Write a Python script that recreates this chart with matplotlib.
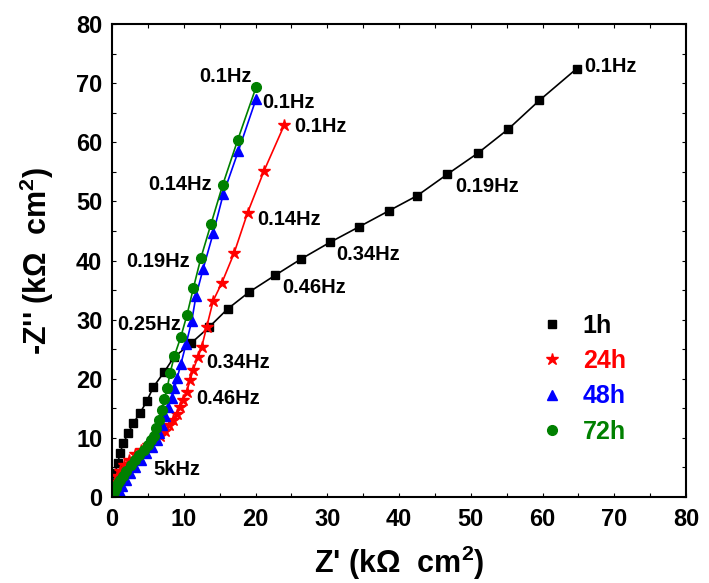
import matplotlib
matplotlib.use("Agg")
import matplotlib.pyplot as plt
from matplotlib.lines import Line2D
from matplotlib.ticker import MultipleLocator

plt.rcParams["font.family"] = ["Liberation Sans", "DejaVu Sans"]
plt.rcParams["font.weight"] = "bold"
plt.rcParams["mathtext.fontset"] = "custom"
plt.rcParams["mathtext.rm"] = "Liberation Sans:bold"
plt.rcParams["mathtext.it"] = "Liberation Sans:bold"
plt.rcParams["mathtext.bf"] = "Liberation Sans:bold"

# Nyquist data: Z' and -Z'' in kOhm cm^2 for each immersion time
z_re_1h = [0.05, 0.18, 0.42, 0.79, 1.11, 1.57, 2.27, 2.97, 3.9, 4.84, 5.76, 7.3, 8.6,
           11.0, 13.5, 16.1, 19.14, 22.72, 26.34, 30.34, 34.43, 38.57, 42.55, 46.73,
           51.01, 55.23, 59.55, 64.77]
z_im_1h = [1.0, 2.3, 4.0, 5.7, 7.4, 9.1, 10.8, 12.5, 14.2, 16.2, 18.6, 21.2, 23.6,
           26.0, 28.7, 31.8, 34.69, 37.49, 40.25, 43.05, 45.7, 48.4, 50.98, 54.59,
           58.18, 62.23, 67.07, 72.46]

z_re_24h = [0.1, 0.2, 0.4, 0.7, 1.1, 1.7, 2.4, 3.2, 4.1, 5.0, 5.9, 6.7, 7.4, 8.0, 8.5,
            9.0, 9.5, 9.94, 10.4, 10.9, 11.3, 12.0, 12.5, 13.2, 14.1, 15.3, 17.0,
            18.9, 21.2, 24.0]
z_im_24h = [0.5, 1.5, 2.5, 3.5, 4.4, 5.4, 6.3, 7.2, 8.0, 8.8, 9.6, 10.4, 11.2, 12.1,
            13.1, 14.1, 15.2, 16.4, 17.8, 19.8, 21.5, 23.7, 25.4, 28.8, 33.2, 36.2,
            41.2, 48.1, 55.2, 62.9]

z_re_48h = [1.0, 1.1, 1.4, 1.9, 2.5, 3.2, 4.0, 4.8, 5.6, 6.2, 6.6, 7.0, 7.4, 7.8, 8.3,
            8.7, 9.1, 9.6, 10.3, 11.1, 11.7, 12.7, 14.1, 15.5, 17.6, 20.07]
z_im_48h = [0.0, 0.8, 1.8, 2.9, 4.0, 5.1, 6.3, 7.4, 8.5, 9.6, 10.8, 12.2, 13.7, 15.2,
            16.8, 18.4, 20.2, 22.5, 25.8, 29.7, 34.0, 38.6, 44.6, 51.2, 58.5, 67.3]

z_re_72h = [0.2, 0.3, 0.5, 0.8, 1.1, 1.5, 2.0, 2.6, 3.2, 3.8, 4.4, 5.0, 5.5, 5.8, 6.1,
            6.5, 6.9, 7.3, 7.7, 8.1, 8.7, 9.57, 10.45, 11.33, 12.4, 13.8, 15.43,
            17.52, 20.07]
z_im_72h = [0.0, 0.8, 1.6, 2.4, 2.9, 3.6, 4.4, 5.4, 6.3, 7.1, 7.9, 8.8, 9.6, 10.4,
            11.6, 13.0, 14.7, 16.5, 18.5, 21.0, 23.9, 27.0, 30.8, 35.3, 40.5, 46.2,
            52.8, 60.4, 69.3]

series_labels = ["1h", "24h", "48h", "72h"]
series_colors = ["black", "red", "blue", "green"]
series_markers = ["s", "*", "^", "o"]

# frequency annotations: (text, Z', -Z'')
freq_labels = [
    ("0.1Hz", 65.8, 72.8), ("0.19Hz", 47.8, 52.6), ("0.34Hz", 31.2, 41.1),
    ("0.46Hz", 23.7, 35.4), ("0.1Hz", 21.0, 66.7), ("0.1Hz", 25.4, 62.6),
    ("0.14Hz", 20.2, 47.0), ("0.1Hz", 12.1, 71.1), ("0.14Hz", 5.0, 52.8),
    ("0.19Hz", 1.95, 39.9), ("0.25Hz", 0.7, 29.1), ("0.34Hz", 13.1, 22.7),
    ("0.46Hz", 11.7, 16.6), ("5kHz", 5.7, 4.6),
]

fig = plt.figure(figsize=(7.09, 5.83), dpi=100)
ax = fig.add_axes([0.158, 0.1475, 0.8096, 0.8113])

data = [(z_re_1h, z_im_1h), (z_re_24h, z_im_24h), (z_re_48h, z_im_48h), (z_re_72h, z_im_72h)]
msizes = [6, 9, 7.5, 7]
for (xs, ys), c, m, ms in zip(data, series_colors, series_markers, msizes):
    ax.plot(xs, ys, color=c, marker=m, markersize=ms, linewidth=1.2,
            markeredgecolor=c, markerfacecolor=c)

for txt, x, y in freq_labels:
    ax.text(x, y, txt, fontsize=14.5, fontweight="bold", ha="left", va="center")

ax.set_xlim(0, 80)
ax.set_ylim(0, 80)
ax.xaxis.set_major_locator(MultipleLocator(10))
ax.yaxis.set_major_locator(MultipleLocator(10))
ax.xaxis.set_minor_locator(MultipleLocator(5))
ax.yaxis.set_minor_locator(MultipleLocator(5))
ax.tick_params(which="both", direction="in", length=3, width=0.8, top=True, right=True)
ax.tick_params(axis="x", which="major", labelsize=17, pad=8)
ax.tick_params(axis="y", which="major", labelsize=17, pad=7)
for lab in ax.get_xticklabels() + ax.get_yticklabels():
    lab.set_fontweight("bold")
for sp in ax.spines.values():
    sp.set_linewidth(1.5)

ax.set_xlabel("Z' (k\u03a9  cm$^2$)", fontsize=22, fontweight="bold", labelpad=9)
ax.set_ylabel("-Z'' (k\u03a9  cm$^2$)", fontsize=22, fontweight="bold", labelpad=14)

handles = [Line2D([], [], linestyle="none", marker=m, color=c, markersize=ms)
           for m, c, ms in zip(series_markers, series_colors, [6, 9, 7.5, 7])]
ax.legend(handles, series_labels, loc="upper left", bbox_to_anchor=(539 / 709, 1 - 314 / 583),
          bbox_transform=fig.transFigure, frameon=False, labelcolor=series_colors,
          prop={"size": 18, "weight": "bold"}, handlelength=1.0, handletextpad=0.75,
          labelspacing=0.45, borderpad=0, borderaxespad=0)

fig.savefig("out.png", dpi=100)
